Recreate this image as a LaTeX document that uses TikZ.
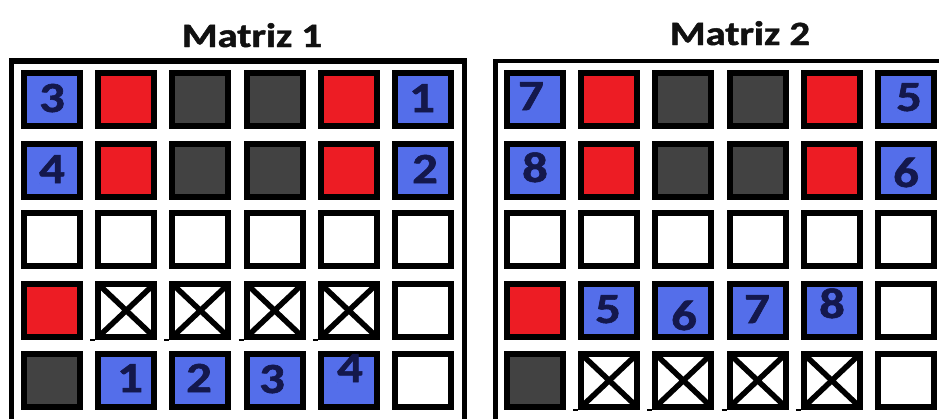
\documentclass[tikz,border=0pt]{standalone}
\usepackage{fontspec}
\setmainfont{Carlito}
\newfontfamily\heavy[FakeBold=1.3]{Carlito Bold}
\definecolor{cblue}{RGB}{84,110,234}
\definecolor{cred}{RGB}{237,28,36}
\definecolor{cgray}{RGB}{66,66,66}
\definecolor{cnavy}{RGB}{20,24,76}
\definecolor{ctitle}{RGB}{17,17,17}
\newcommand\rowcells[5]{% #1 matrix, #2 x of first centre, #3 row, #4 y centre, #5 styles
  \foreach \s [count=\i] in {#5} {
    \node[cellbox,\s] (m#1r#3c\i) at ({#2+74.2*(\i-1)},#4) {};
  }}
\tikzset{
  cellbox/.style={draw=black, line width=6pt, inner sep=0pt,
    minimum width=56pt, minimum height=53pt, fill=white},
  B/.style={fill=cblue},
  R/.style={fill=cred},
  G/.style={fill=cgray},
  W/.style={fill=white},
  X/.style={fill=white,
    path picture={\draw[line width=5.5pt,black]
      (path picture bounding box.north west) -- (path picture bounding box.south east)
      (path picture bounding box.north east) -- (path picture bounding box.south west);},
    append after command={\pgfextra{\draw[line width=2.5pt,black]
      ([xshift=-5pt]\tikzlastnode.south west) -- (\tikzlastnode.south west);}}},
  frame/.style={draw=black},
  title/.style={anchor=base, inner sep=0pt, text=ctitle,
    font=\fontsize{34}{40}\selectfont\heavy},
  digit/.style={anchor=base, inner sep=0pt, text=cnavy,
    font=\fontsize{43}{43}\selectfont\heavy},
}
\newcommand\dg[1]{\scalebox{1.18}[1]{#1}}
\begin{document}
\begin{tikzpicture}[x=1pt,y=-1pt]
\useasboundingbox (0,0) rectangle (939,418);
\clip (0,0) rectangle (939,418);
\fill[white] (0,0) rectangle (939,418);

% titles
\node[title] (t1) at (252,47) {\scalebox{1.2}[1]{Matriz 1}};
\node[title] (t2) at (740,45) {\scalebox{1.2}[1]{Matriz 2}};

% frames
\draw[frame, line width=5.5pt] (11.5,61) rectangle (464.5,430);
\draw[frame, line width=4.5pt] (495.5,61) rectangle (950,430);

% matrix 1
\rowcells{1}{52}{1}{99.5}{B,R,G,G,R,B}
\rowcells{1}{52}{2}{170.5}{B,R,G,G,R,B}
\rowcells{1}{52}{3}{239.5}{W,W,W,W,W,W}
\rowcells{1}{52}{4}{310.5}{R,X,X,X,X,W}
\rowcells{1}{52}{5}{380.5}{G,B,B,B,B,W}

% matrix 2
\rowcells{2}{535}{1}{99.5}{B,R,G,G,R,B}
\rowcells{2}{535}{2}{170.5}{B,R,G,G,R,B}
\rowcells{2}{535}{3}{239.5}{W,W,W,W,W,W}
\rowcells{2}{535}{4}{310.5}{R,B,B,B,B,W}
\rowcells{2}{535}{5}{380.5}{G,X,X,X,X,W}

% digits matrix 1
\node[digit] (a1) at (52,112) {\dg{3}};
\node[digit] (a2) at (422,112) {\dg{1}};
\node[digit] (a3) at (52,183) {\dg{4}};
\node[digit] (a4) at (425,183) {\dg{2}};
\node[digit] (a5) at (130,392) {\dg{1}};
\node[digit] (a6) at (199,392) {\dg{2}};
\node[digit] (a7) at (272,393) {\dg{3}};
\node[digit] (a8) at (350,382) {\dg{4}};

% digits matrix 2
\node[digit] (b1) at (531,110) {\dg{7}};
\node[digit] (b2) at (909,111) {\dg{5}};
\node[digit] (b3) at (535,182) {\dg{8}};
\node[digit] (b4) at (906,187) {\dg{6}};
\node[digit] (b5) at (608,323) {\dg{5}};
\node[digit] (b6) at (684,330) {\dg{6}};
\node[digit] (b7) at (757,323) {\dg{7}};
\node[digit] (b8) at (832,318) {\dg{8}};
\end{tikzpicture}
\end{document}
